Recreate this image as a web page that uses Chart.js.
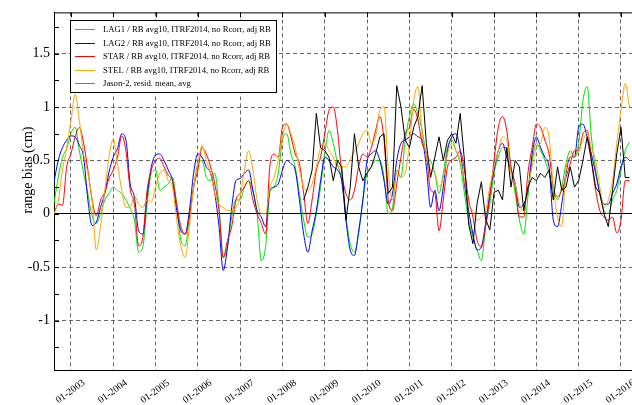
<!DOCTYPE html>
<html>
<head>
<meta charset="utf-8">
<script src="https://cdn.jsdelivr.net/npm/chart.js@4.4.0/dist/chart.umd.min.js"></script>
<style>
  html, body { margin: 0; padding: 0; background: #fff; }
</style>
</head>
<body>
<canvas id="biasChart" width="632" height="405"></canvas>
<script>
// sample epochs in decimal years, one every 0.1 yr from 2002.6 to 2016.2
const epochs = [];
for (let i = 0; i < 137; i++) epochs.push(+(2002.6 + i / 10).toFixed(1));

const years = [2003, 2004, 2005, 2006, 2007, 2008, 2009, 2010, 2011, 2012, 2013, 2014, 2015, 2016];
const yearLabels = ['01-2003', '01-2004', '01-2005', '01-2006', '01-2007', '01-2008', '01-2009',
  '01-2010', '01-2011', '01-2012', '01-2013', '01-2014', '01-2015', '01-2016'];
const yTicks = [-1.25, -1, -0.75, -0.5, -0.25, 0, 0.25, 0.5, 0.75, 1, 1.25, 1.5, 1.75];

const seriesNames = [
  'LAG1 / RB avg10, ITRF2014, no Rcorr, adj RB',
  'LAG2 / RB avg10, ITRF2014, no Rcorr, adj RB',
  'STAR / RB avg10, ITRF2014, no Rcorr, adj RB',
  'STEL / RB avg10, ITRF2014, no Rcorr, adj RB',
  'Jason-2, resid. mean, avg'
];
const seriesColors = ['#00e000', '#0000ff', '#ff0000', '#ffa500', '#000000'];
const legendColors = ['#00e000', '#0000ff', '#ff0000', '#ffa500', '#777777'];

// range bias (cm), from 2002.6
const lag1 = [0.10, 0.34, 0.53, 0.61,
  0.75, 0.81, 0.59, 0.38, 0.19, -0.02, -0.09, 0.00, 0.13, 0.19,
  0.25, 0.22, 0.19, 0.13, 0.05, -0.06, -0.36, -0.31, 0.09, 0.38,
  0.41, 0.22, 0.25, 0.28, 0.34, 0.09, -0.25, -0.30, -0.03, 0.25,
  0.47, 0.50, 0.34, 0.31, 0.38, 0.06, -0.41, -0.31, -0.03, 0.13,
  0.13, 0.25, 0.31, 0.22, 0.00, -0.44, -0.31, 0.19, 0.25, 0.38,
  0.69, 0.75, 0.56, 0.44, 0.19, -0.06, -0.22, -0.19, 0.00, 0.25,
  0.56, 0.78, 0.66, 0.47, 0.31, -0.03, -0.28, -0.36, -0.19, 0.13,
  0.38, 0.44, 0.50, 0.50, 0.34, 0.00, 0.06, 0.41, 0.34, 0.69,
  0.91, 1.03, 0.94, 0.78, 0.56, 0.50, 0.38, 0.19, 0.38, 0.62,
  0.69, 0.59, 0.47, 0.19, -0.06, -0.22, -0.34, -0.44, -0.12, 0.09,
  0.38, 0.53, 0.62, 0.62, 0.44, 0.19, -0.06, -0.19, 0.16, 0.50,
  0.66, 0.59, 0.50, 0.38, 0.22, 0.13, 0.25, 0.47, 0.59, 0.53,
  0.66, 1.06, 1.19, 0.72, 0.41, 0.19, 0.03, 0.00, 0.13, 0.22,
  0.41, 0.59, 0.67];

const lag2 = [0.30, 0.50, 0.62, 0.69,
  0.73, 0.72, 0.64, 0.53, 0.13, -0.11, -0.08, 0.06, 0.19, 0.39,
  0.53, 0.61, 0.75, 0.69, 0.28, 0.16, -0.16, -0.19, 0.16, 0.44,
  0.55, 0.56, 0.50, 0.41, 0.31, 0.03, -0.16, -0.19, 0.03, 0.38,
  0.56, 0.53, 0.44, 0.38, 0.19, -0.12, -0.53, -0.31, 0.06, 0.31,
  0.33, 0.38, 0.41, 0.22, 0.03, -0.03, -0.12, 0.22, 0.25, 0.28,
  0.41, 0.50, 0.47, 0.41, 0.13, -0.19, -0.36, -0.16, 0.03, 0.31,
  0.53, 0.50, 0.44, 0.41, 0.31, -0.06, -0.34, -0.39, -0.16, 0.13,
  0.50, 0.56, 0.59, 0.50, 0.31, 0.09, 0.19, 0.50, 0.66, 0.69,
  0.72, 0.75, 0.72, 0.69, 0.44, 0.06, 0.22, 0.03, 0.25, 0.59,
  0.72, 0.75, 0.59, 0.28, 0.03, -0.19, -0.34, -0.31, -0.09, 0.19,
  0.41, 0.59, 0.66, 0.53, 0.41, 0.28, 0.06, 0.09, 0.22, 0.56,
  0.72, 0.62, 0.53, 0.44, -0.06, -0.12, 0.09, 0.38, 0.53, 0.53,
  0.81, 0.84, 0.72, 0.56, 0.38, 0.19, 0.09, 0.09, 0.19, 0.28,
  0.44, 0.53, 0.50];

const star = [0.00, 0.09, 0.08, 0.44,
  0.56, 0.72, 0.81, 0.66, 0.41, 0.13, -0.02, 0.13, 0.20, 0.33,
  0.41, 0.53, 0.73, 0.59, 0.23, 0.09, -0.30, -0.22, 0.22, 0.41,
  0.50, 0.52, 0.44, 0.36, 0.31, 0.09, -0.12, -0.19, -0.03, 0.25,
  0.41, 0.62, 0.56, 0.44, 0.28, 0.03, -0.41, -0.25, -0.12, 0.13,
  0.19, 0.25, 0.31, 0.13, 0.00, -0.09, -0.19, 0.44, 0.56, 0.53,
  0.81, 0.84, 0.72, 0.56, 0.47, 0.19, -0.09, 0.13, 0.41, 0.53,
  0.75, 0.97, 1.00, 0.78, 0.38, 0.19, 0.13, 0.22, 0.44, 0.56,
  0.53, 0.62, 0.78, 0.91, 0.69, 0.13, 0.03, 0.28, 0.53, 0.75,
  0.81, 0.98, 0.88, 0.66, 0.56, 0.22, 0.19, -0.16, 0.13, 0.44,
  0.50, 0.53, 0.59, 0.41, 0.13, -0.03, -0.25, -0.31, -0.12, 0.16,
  0.50, 0.81, 0.91, 0.78, 0.44, 0.25, -0.03, -0.03, 0.38, 0.62,
  0.84, 0.81, 0.69, 0.56, 0.25, 0.16, 0.22, 0.34, 0.47, 0.59,
  0.59, 0.75, 0.78, 0.50, 0.22, 0.03, -0.03, -0.06, -0.03, -0.18,
  -0.06, 0.31, 0.31];

const stel = [0.00, 0.12, 0.41, 0.62,
  0.87, 1.12, 0.87, 0.56, 0.38, 0.13, -0.34, -0.12, 0.22, 0.53,
  0.70, 0.47, 0.22, 0.06, 0.06, 0.17, 0.09, 0.06, 0.13, 0.11,
  0.25, 0.38, 0.41, 0.31, 0.25, -0.06, -0.31, -0.41, -0.12, 0.25,
  0.47, 0.64, 0.50, 0.38, 0.19, 0.09, 0.06, 0.03, 0.03, 0.06,
  0.16, 0.41, 0.59, 0.41, 0.13, 0.00, 0.00, 0.25, 0.34, 0.50,
  0.72, 0.84, 0.75, 0.62, 0.41, 0.25, 0.22, 0.28, 0.44, 0.62,
  0.66, 0.59, 0.53, 0.44, 0.44, 0.44, 0.50, 0.59, 0.66, 0.75,
  0.78, 0.66, 0.72, 0.97, 1.00, 0.41, 0.13, 0.38, 0.34, 0.38,
  0.66, 1.06, 1.19, 0.75, 0.56, 0.41, 0.38, 0.25, 0.34, 0.56,
  0.66, 0.59, 0.50, 0.31, 0.09, 0.03, -0.06, -0.03, 0.03, 0.25,
  0.44, 0.59, 0.72, 0.69, 0.38, 0.28, 0.09, 0.03, 0.25, 0.44,
  0.62, 0.66, 0.81, 0.72, 0.25, -0.03, -0.12, 0.41, 0.53, 0.53,
  0.59, 0.69, 0.75, 0.62, 0.50, 0.25, 0.06, 0.13, 0.31, 0.66,
  0.97, 1.22, 1.00];

// Jason-2 starts mid 2008
const jason2 = [0.13, 0.25, 0.41, 0.94, 0.62,
  0.59, 0.53, 0.31, 0.50, 0.44, -0.06, 0.25, 0.75, 0.44, 0.31,
  0.38, 0.44, 0.56, 0.72, 0.75, 0.19, 0.25, 1.20, 1.00, 0.69,
  0.62, 0.81, 0.91, 1.20, 0.66, 0.34, 0.53, 0.72, 0.50, 0.69,
  0.75, 0.66, 0.94, 0.50, -0.10, -0.28, 0.10, 0.30, -0.05, -0.15,
  0.20, 0.22, 0.13, 0.62, 0.25, 0.50, 0.44, 0.03, 0.25, 0.34,
  0.31, 0.38, 0.34, 0.41, 0.13, 0.44, 0.22, 0.25, 0.44, 0.25,
  0.31, 0.50, 0.72, 0.50, 0.25, 0.19, 0.00, -0.12, 0.22, 0.56,
  0.81, 0.34, 0.34];

function series(values, first) {
  const i0 = epochs.indexOf(first);
  return values.map((v, i) => ({ x: epochs[i0 + i], y: v }));
}

const serif = "'Liberation Serif', 'DejaVu Serif', serif";
const isMajor = v => Math.abs(v * 2 - Math.round(v * 2)) < 1e-6;

// frame ticks, axis title and boxed legend, drawn on top of the plot
const decorations = {
  id: 'decorations',
  afterDraw(chart) {
    const { ctx, chartArea: a, scales } = chart;
    ctx.save();
    ctx.strokeStyle = '#000';
    ctx.lineWidth = 1;
    ctx.beginPath();
    ctx.moveTo(a.left, a.top + 0.5);
    ctx.lineTo(a.right, a.top + 0.5);
    yTicks.forEach(v => {
      const y = Math.round(scales.y.getPixelForValue(v)) + 0.5;
      ctx.moveTo(a.left, y);
      ctx.lineTo(a.left + 5, y);
    });
    years.forEach(v => {
      const x = Math.round(scales.x.getPixelForValue(v)) + 0.5;
      ctx.moveTo(x, a.top);
      ctx.lineTo(x, a.top + 5);
    });
    ctx.stroke();

    // y axis title
    ctx.save();
    ctx.translate(28, 170);
    ctx.rotate(-Math.PI / 2);
    ctx.fillStyle = '#000';
    ctx.font = '14px ' + serif;
    ctx.textAlign = 'center';
    ctx.textBaseline = 'middle';
    ctx.fillText('range bias (cm)', 0, 0);
    ctx.restore();

    // legend box
    const bx = 70.5, by = 20.5, bw = 206, bh = 72;
    ctx.fillStyle = '#fff';
    ctx.fillRect(bx, by, bw, bh);
    ctx.strokeStyle = '#000';
    ctx.strokeRect(bx, by, bw, bh);
    ctx.font = '8.7px ' + serif;
    ctx.textBaseline = 'middle';
    ctx.textAlign = 'left';
    seriesNames.forEach((name, i) => {
      const y = Math.round(29 + i * 13.5) + 0.5;
      ctx.beginPath();
      ctx.strokeStyle = legendColors[i];
      ctx.moveTo(75, y);
      ctx.lineTo(95, y);
      ctx.stroke();
      ctx.fillStyle = '#000';
      ctx.fillText(name, 103, y);
    });
    ctx.restore();
  }
};

const lineSets = [lag1, lag2, star, stel, jason2].map((vals, i) => ({
  label: seriesNames[i],
  data: series(vals, i === 4 ? 2008.5 : 2002.6),
  borderColor: seriesColors[i],
  backgroundColor: seriesColors[i],
  // the noisy altimeter residuals stay piecewise linear
  cubicInterpolationMode: i === 4 ? 'default' : 'monotone',
  tension: 0,
  order: 4 - i
}));

new Chart(document.getElementById('biasChart'), {
  type: 'line',
  data: { datasets: lineSets },
  options: {
    responsive: false,
    animation: false,
    devicePixelRatio: 1,
    layout: { padding: { top: 10, right: 0, left: 0, bottom: 0 } },
    elements: {
      line: { borderWidth: 1 },
      point: { radius: 0 }
    },
    plugins: { legend: { display: false }, tooltip: { enabled: false } },
    scales: {
      x: {
        type: 'linear',
        min: 2002.6,
        max: 2016.26,
        afterBuildTicks: s => { s.ticks = years.map(v => ({ value: v })); },
        afterFit: s => { s.height = 35; s.paddingLeft = 0; s.paddingRight = 0; },
        ticks: {
          autoSkip: false,
          minRotation: 36,
          maxRotation: 36,
          padding: 7,
          labelOffset: 13,
          color: '#000',
          font: { family: serif, size: 10 },
          callback: (v, i) => yearLabels[i]
        },
        grid: { drawTicks: false, color: '#666', lineWidth: 1 },
        border: { color: '#000', width: 1, dash: [4, 3] }
      },
      y: {
        type: 'linear',
        min: -1.463,
        max: 1.886,
        afterBuildTicks: s => { s.ticks = yTicks.map(v => ({ value: v })); },
        afterFit: s => { s.width = 54; },
        ticks: {
          padding: 4,
          color: '#000',
          font: { family: serif, size: 14 },
          callback: v => isMajor(v) ? String(v) : ''
        },
        grid: {
          drawTicks: false,
          lineWidth: 1,
          color: c => !c.tick ? '#000' : (c.tick.value === 0 ? '#000' : (isMajor(c.tick.value) ? '#666' : 'rgba(0,0,0,0)'))
        },
        border: {
          color: '#000',
          width: 1,
          dash: c => (c.tick && c.tick.value !== 0) ? [4, 3] : []
        }
      }
    }
  },
  plugins: [decorations]
});
</script>
</body>
</html>
